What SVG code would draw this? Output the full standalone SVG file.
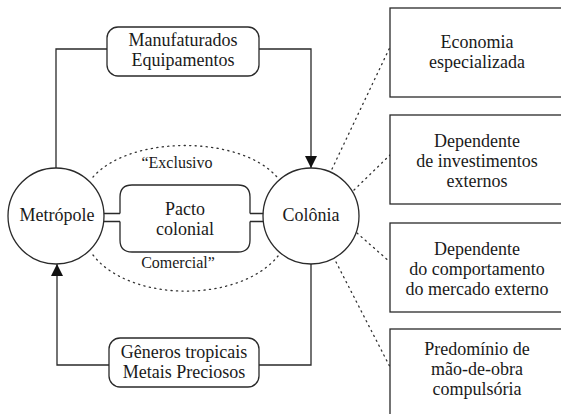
<svg xmlns="http://www.w3.org/2000/svg" width="561" height="414" viewBox="0 0 561 414" font-family="Liberation Serif" font-size="18">
<defs>
<marker id="arr" viewBox="0 0 12 12" refX="12" refY="6" markerWidth="12" markerHeight="12" markerUnits="userSpaceOnUse" orient="auto">
<path d="M0,0 L12,6 L0,12 Z" fill="#111"/>
</marker>
</defs>
<rect width="561" height="414" fill="#fff"/>
<g id="connectors" fill="none" stroke="#2a2a2a" stroke-width="1.3">
<path d="M107,49 H56 V168"/>
<path d="M259,49 H311 V168" marker-end="url(#arr)"/>
<path d="M109,365 H57 V264" marker-end="url(#arr)"/>
<path d="M259,365 H311 V264"/>
<path d="M104,213.5 H120 M104,221.5 H120 M250,213.5 H264 M250,221.5 H264"/>
<g stroke="#333" stroke-dasharray="1.2 4.3" stroke-linecap="round">
<path d="M93,177 C130,135 240,135 277,177"/>
<path d="M93,255 C130,303 240,303 278,256"/>
<path d="M332,169 L390,47"/>
<path d="M354,190 L390,155"/>
<path d="M357,233 L390,262"/>
<path d="M336,262 L390,367"/>
</g>
</g>
<g id="manufaturados">
<rect x="107" y="27" width="152" height="49" rx="11" fill="#fff" stroke="#2a2a2a" stroke-width="1.3"/>
<text font-family="Liberation Serif" font-size="18" text-anchor="middle" fill="#1a1a1a" x="183" y="46">Manufaturados</text>
<text font-family="Liberation Serif" font-size="18" text-anchor="middle" fill="#1a1a1a" x="183" y="66">Equipamentos</text>
</g>
<g id="generos">
<rect x="109" y="338" width="150" height="49" rx="11" fill="#fff" stroke="#2a2a2a" stroke-width="1.3"/>
<text font-family="Liberation Serif" font-size="18" text-anchor="middle" fill="#1a1a1a" x="184" y="358">Gêneros tropicais</text>
<text font-family="Liberation Serif" font-size="18" text-anchor="middle" fill="#1a1a1a" x="184" y="378">Metais Preciosos</text>
</g>
<g id="metropole">
<circle cx="56" cy="216" r="48" fill="#fff" stroke="#2a2a2a" stroke-width="1.3"/>
<text font-family="Liberation Serif" font-size="18" text-anchor="middle" fill="#1a1a1a" x="57" y="221">Metrópole</text>
</g>
<g id="colonia">
<circle cx="311" cy="216" r="48" fill="#fff" stroke="#2a2a2a" stroke-width="1.3"/>
<text font-family="Liberation Serif" font-size="18" text-anchor="middle" fill="#1a1a1a" x="311" y="221">Colônia</text>
</g>
<g id="pacto">
<path d="M120,213.5 V197 Q120,185 132,185 H238 Q250,185 250,197 V213.5 M250,221.5 V240 Q250,252 238,252 H132 Q120,252 120,240 V221.5" fill="#fff" stroke="#2a2a2a" stroke-width="1.3"/>
<text font-family="Liberation Serif" font-size="18" text-anchor="middle" fill="#1a1a1a" x="185" y="215">Pacto</text>
<text font-family="Liberation Serif" font-size="18" text-anchor="middle" fill="#1a1a1a" x="185" y="235">colonial</text>
</g>
<g id="labels">
<text font-family="Liberation Serif" font-size="16" text-anchor="middle" fill="#1a1a1a" x="177" y="168">“Exclusivo</text>
<text font-family="Liberation Serif" font-size="16" text-anchor="middle" fill="#1a1a1a" x="178" y="268">Comercial”</text>
</g>
<g id="economia">
<rect x="390" y="8" width="190" height="89" fill="#fff" stroke="#2a2a2a" stroke-width="1.3"/>
<text font-family="Liberation Serif" font-size="18" text-anchor="middle" fill="#1a1a1a" x="477" y="48">Economia</text>
<text font-family="Liberation Serif" font-size="18" text-anchor="middle" fill="#1a1a1a" x="477" y="68">especializada</text>
</g>
<g id="investimentos">
<rect x="390" y="115" width="190" height="89" fill="#fff" stroke="#2a2a2a" stroke-width="1.3"/>
<text font-family="Liberation Serif" font-size="18" text-anchor="middle" fill="#1a1a1a" x="477" y="147">Dependente</text>
<text font-family="Liberation Serif" font-size="18" text-anchor="middle" fill="#1a1a1a" x="477" y="167">de investimentos</text>
<text font-family="Liberation Serif" font-size="18" text-anchor="middle" fill="#1a1a1a" x="477" y="187">externos</text>
</g>
<g id="mercado">
<rect x="390" y="223" width="190" height="89" fill="#fff" stroke="#2a2a2a" stroke-width="1.3"/>
<text font-family="Liberation Serif" font-size="18" text-anchor="middle" fill="#1a1a1a" x="477" y="255">Dependente</text>
<text font-family="Liberation Serif" font-size="18" text-anchor="middle" fill="#1a1a1a" x="477" y="275">do comportamento</text>
<text font-family="Liberation Serif" font-size="18" text-anchor="middle" fill="#1a1a1a" x="477" y="295">do mercado externo</text>
</g>
<g id="maodeobra">
<rect x="390" y="329" width="190" height="100" fill="#fff" stroke="#2a2a2a" stroke-width="1.3"/>
<text font-family="Liberation Serif" font-size="18" text-anchor="middle" fill="#1a1a1a" x="477" y="355">Predomínio de</text>
<text font-family="Liberation Serif" font-size="18" text-anchor="middle" fill="#1a1a1a" x="477" y="375">mão-de-obra</text>
<text font-family="Liberation Serif" font-size="18" text-anchor="middle" fill="#1a1a1a" x="477" y="395">compulsória</text>
</g>
</svg>
